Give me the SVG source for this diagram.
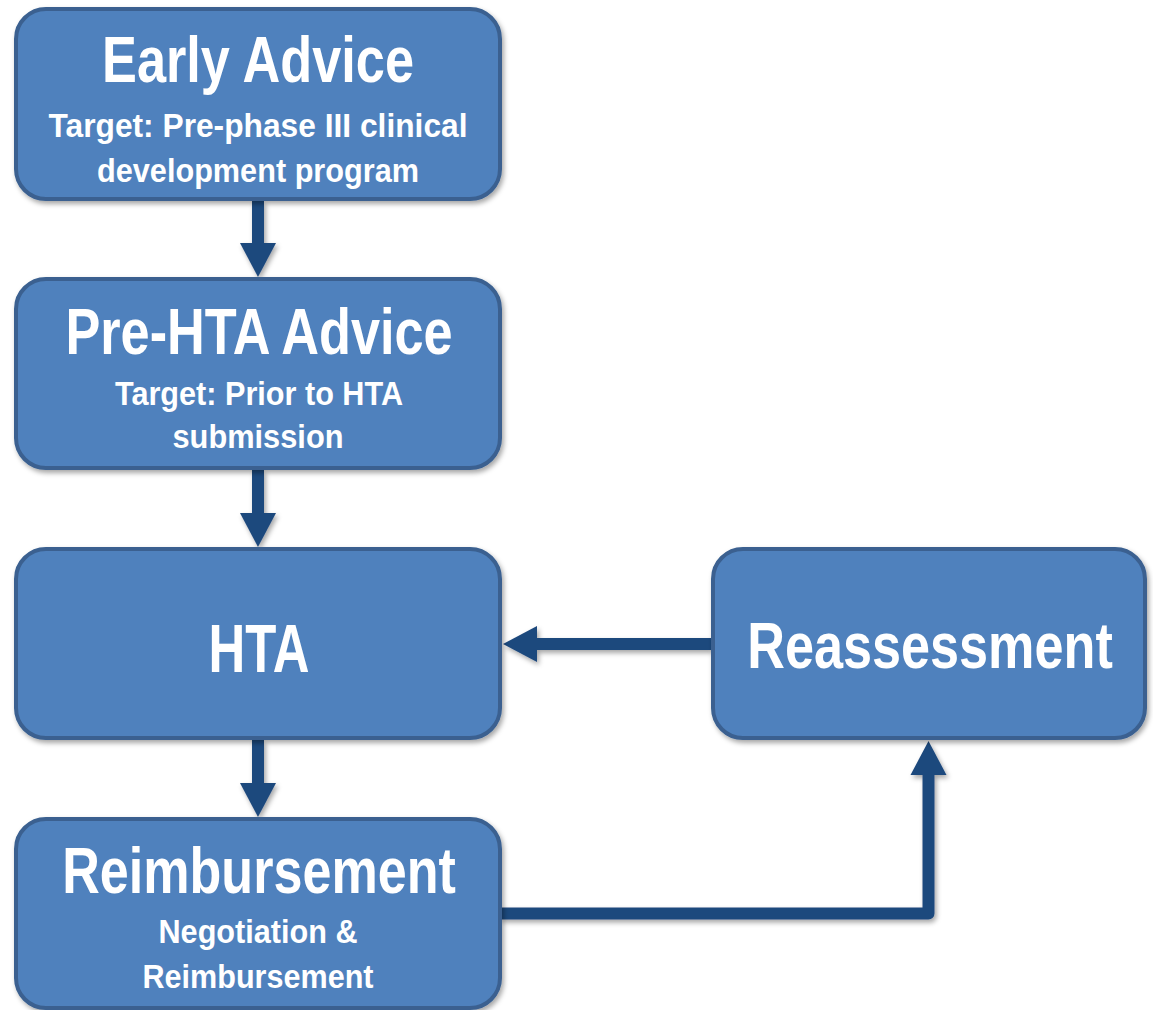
<svg xmlns="http://www.w3.org/2000/svg" width="1153" height="1010" viewBox="0 0 1153 1010">
  <defs>
    <filter id="shadow" x="-10%" y="-10%" width="120%" height="130%">
      <feDropShadow dx="2" dy="3" stdDeviation="2.5" flood-color="#000" flood-opacity="0.35"/>
    </filter>
    <marker id="head" markerUnits="userSpaceOnUse" markerWidth="36" markerHeight="36" viewBox="0 0 34 36" refX="0" refY="18" orient="auto" overflow="visible">
      <path d="M0,0 L34,18 L0,36 Z" fill="#1F497D"/>
    </marker>
    <style>
      .box { fill: #4F81BD; stroke: #3A6090; stroke-width: 4; filter: url(#shadow); }
      .conn { fill: none; stroke: #1F497D; stroke-width: 12; stroke-linejoin: round; marker-end: url(#head); }
      text { font-family: "Liberation Sans", Arial, sans-serif; font-weight: bold; fill: #FFFFFF; text-anchor: middle; }
      .title { font-size: 64px; }
      .big { font-size: 68px; }
      .sub { font-size: 33px; }
    </style>
  </defs>

  <g id="connectors" filter="url(#shadow)">
    <path class="conn" d="M258,201 V243"/>
    <path class="conn" d="M258,470 V513"/>
    <path class="conn" d="M258,740 V783"/>
    <path class="conn" d="M711,644 H537"/>
    <path class="conn" d="M500,913.5 H928.5 V775"/>
  </g>

  <g id="early-advice">
    <rect class="box" x="16" y="9" width="484" height="190" rx="30"/>
    <text class="title" transform="translate(258,82) scale(0.8,1)" x="0" y="0" textLength="390" lengthAdjust="spacingAndGlyphs">Early Advice</text>
    <text class="sub" x="258" y="137" textLength="419" lengthAdjust="spacingAndGlyphs">Target: Pre-phase III clinical</text>
    <text class="sub" x="258" y="182" textLength="322" lengthAdjust="spacingAndGlyphs">development program</text>
  </g>

  <g id="pre-hta-advice">
    <rect class="box" x="16" y="279" width="484" height="189" rx="30"/>
    <text class="title" transform="translate(259,354) scale(0.8,1)" x="0" y="0" textLength="484" lengthAdjust="spacingAndGlyphs">Pre-HTA Advice</text>
    <text class="sub" x="259" y="405" textLength="288" lengthAdjust="spacingAndGlyphs">Target: Prior to HTA</text>
    <text class="sub" x="258" y="448" textLength="171" lengthAdjust="spacingAndGlyphs">submission</text>
  </g>

  <g id="hta">
    <rect class="box" x="16" y="549" width="484" height="189" rx="30"/>
    <text class="big" transform="translate(259,672) scale(0.8,1)" x="0" y="0" textLength="126" lengthAdjust="spacingAndGlyphs">HTA</text>
  </g>

  <g id="reimbursement">
    <rect class="box" x="16" y="819" width="484" height="189" rx="30"/>
    <text class="title" transform="translate(259,893) scale(0.8,1)" x="0" y="0" textLength="492" lengthAdjust="spacingAndGlyphs">Reimbursement</text>
    <text class="sub" x="258" y="943" textLength="199" lengthAdjust="spacingAndGlyphs">Negotiation &amp;</text>
    <text class="sub" x="258" y="988" textLength="231" lengthAdjust="spacingAndGlyphs">Reimbursement</text>
  </g>

  <g id="reassessment">
    <rect class="box" x="713" y="549" width="432" height="189" rx="30"/>
    <text class="title" transform="translate(930,668) scale(0.8,1)" x="0" y="0" textLength="457" lengthAdjust="spacingAndGlyphs">Reassessment</text>
  </g>
</svg>
